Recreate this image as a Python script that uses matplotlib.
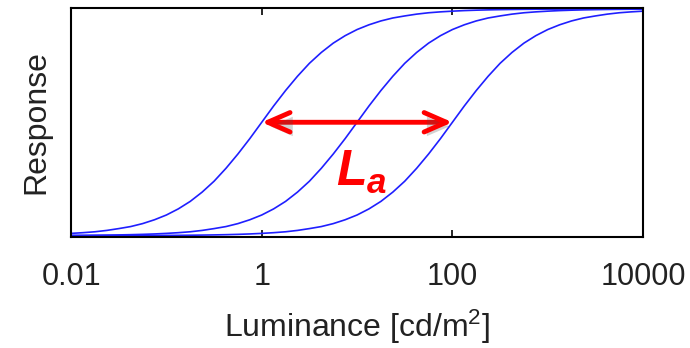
import numpy as np
import matplotlib.pyplot as plt
import matplotlib.patheffects as pe

# luminance samples, eighth decades from 0.01 to 10000 cd/m^2
luminance = np.logspace(-2, 4, 49)

# responses of the three adaptation states (half response at 1, 10, 100)
response_1 = [0.0099, 0.013, 0.017, 0.023, 0.031, 0.040, 0.053, 0.070,
              0.091, 0.118, 0.151, 0.192, 0.240, 0.297, 0.360, 0.428,
              0.5, 0.572, 0.640, 0.703, 0.760, 0.808, 0.849, 0.882,
              0.909, 0.930, 0.947, 0.960, 0.969, 0.977, 0.983, 0.987,
              0.9901, 0.9926, 0.9944, 0.9958, 0.9968, 0.9976, 0.9982, 0.9987,
              0.999, 0.99925, 0.99944, 0.99958, 0.99968, 0.99976, 0.99982,
              0.99987, 0.9999]
response_10 = [0.001, 0.0013, 0.0018, 0.0024, 0.0032, 0.0042, 0.0056, 0.0074,
               0.0099, 0.013, 0.017, 0.023, 0.031, 0.040, 0.053, 0.070,
               0.091, 0.118, 0.151, 0.192, 0.240, 0.297, 0.360, 0.428,
               0.5, 0.572, 0.640, 0.703, 0.760, 0.808, 0.849, 0.882,
               0.909, 0.930, 0.947, 0.960, 0.969, 0.977, 0.983, 0.987,
               0.9901, 0.9926, 0.9944, 0.9958, 0.9968, 0.9976, 0.9982, 0.9987,
               0.999]
response_100 = [0.0001, 0.00013, 0.00018, 0.00024, 0.00032, 0.00042, 0.00056, 0.00075,
                0.001, 0.0013, 0.0018, 0.0024, 0.0032, 0.0042, 0.0056, 0.0074,
                0.0099, 0.013, 0.017, 0.023, 0.031, 0.040, 0.053, 0.070,
                0.091, 0.118, 0.151, 0.192, 0.240, 0.297, 0.360, 0.428,
                0.5, 0.572, 0.640, 0.703, 0.760, 0.808, 0.849, 0.882,
                0.909, 0.930, 0.947, 0.960, 0.969, 0.977, 0.983, 0.987,
                0.9901]

arrow_start = 1
arrow_end = 100
arrow_level = 0.5

xticks = [0.01, 1, 100, 10000]
xtick_labels = ['0.01', '1', '100', '10000']

plt.rcParams['font.family'] = ['Liberation Sans', 'DejaVu Sans']
plt.rcParams['mathtext.fontset'] = 'custom'
plt.rcParams['mathtext.rm'] = 'Liberation Sans'
plt.rcParams['mathtext.it'] = 'Liberation Sans:bold:italic'

fig = plt.figure(figsize=(6.9, 3.48), dpi=100)
ax = fig.add_axes([0.103, 0.319, 0.829, 0.658])

for resp in (response_1, response_10, response_100):
    ax.plot(luminance, resp, color='#1f1fff', lw=1.2)

ax.set_xscale('log')
ax.set_xlim(0.01, 10000)
ax.set_ylim(-0.006, 1.004)
ax.set_xticks(xticks)
ax.set_xticklabels(xtick_labels)
ax.minorticks_off()
ax.set_yticks([])
ax.tick_params(axis='x', direction='in', length=5, width=1.2, top=True,
               labelsize=22, pad=18, colors='black')
ax.tick_params(axis='x', labelcolor='#222222')
for sp in ax.spines.values():
    sp.set_linewidth(1.5)

ax.set_ylabel('Response', fontsize=23, labelpad=14, color='#222222')
ax.set_xlabel('Luminance [cd/m$^{2}$]', fontsize=23, labelpad=11, color='#222222')

# double arrow spanning the adaptation range
ax.annotate('', xy=(arrow_end, arrow_level), xytext=(arrow_start, arrow_level),
            arrowprops=dict(arrowstyle='<->,head_length=16,head_width=7',
                            mutation_scale=1, color='#ff0000', lw=3.5,
                            shrinkA=0, shrinkB=0,
                            path_effects=[pe.SimplePatchShadow(offset=(2, -3), alpha=0.25),
                                          pe.Normal()]))
ax.text(11, 0.28, r'$L_a$', color='#ff0000', fontsize=36, ha='center', va='center')

fig.savefig('out.png', dpi=100)
